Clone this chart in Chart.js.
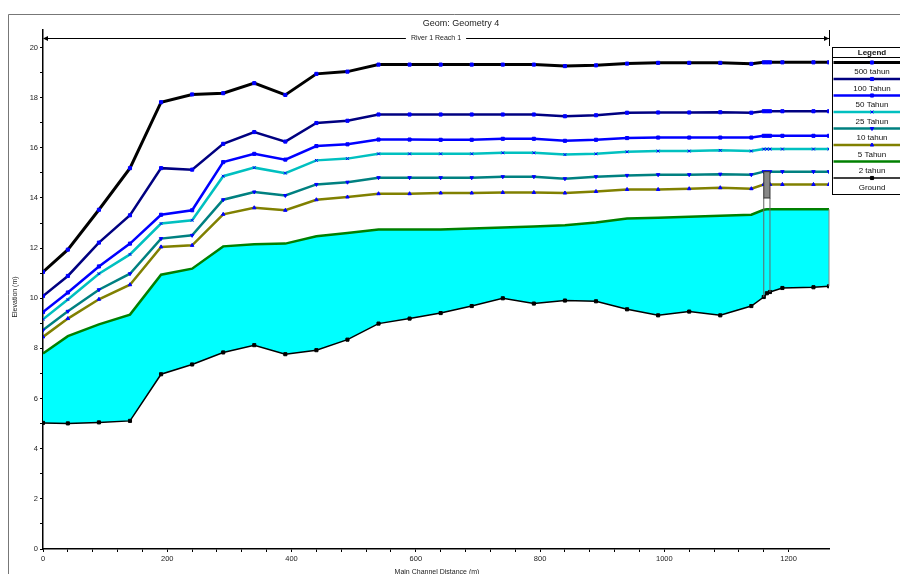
<!DOCTYPE html>
<html lang="id">
<head>
  <meta charset="UTF-8" />
  <title>Geom: Geometry 4</title>
  <script src="https://cdn.jsdelivr.net/npm/chart.js"></script>
  <style>
    body {
      margin: 0;
      background: #fff;
      overflow: hidden;
    }
    canvas {
      display: block;
    }
  </style>
</head>
<body>

<canvas id="profil" width="900" height="574"></canvas>

<script>
  // jarak sepanjang saluran utama (m)
  const stasiun = [0, 40, 90, 140, 190, 240, 290, 340, 390, 440, 490, 540, 590, 640, 690,
    740, 790, 840, 890, 940, 990, 1040, 1090, 1140, 1160, 1165, 1170, 1190, 1240, 1265];

  // muka air per kala ulang (m)
  const ws500 = [11.05, 11.94, 13.53, 15.19, 17.82, 18.13, 18.18, 18.58, 18.11, 18.95, 19.04, 19.32, 19.32, 19.32, 19.32,
    19.32, 19.32, 19.26, 19.29, 19.36, 19.39, 19.39, 19.39, 19.35, 19.41, 19.41, 19.41, 19.41, 19.41, 19.41];
  const ws100 = [10.09, 10.89, 12.22, 13.31, 15.19, 15.13, 16.16, 16.63, 16.25, 16.99, 17.08, 17.33, 17.33, 17.33, 17.33,
    17.33, 17.33, 17.26, 17.30, 17.40, 17.41, 17.41, 17.42, 17.40, 17.46, 17.46, 17.46, 17.46, 17.46, 17.46];
  const ws50 = [9.45, 10.23, 11.27, 12.18, 13.33, 13.51, 15.43, 15.76, 15.53, 16.07, 16.14, 16.33, 16.33, 16.32, 16.32,
    16.36, 16.36, 16.28, 16.32, 16.39, 16.41, 16.41, 16.41, 16.41, 16.48, 16.48, 16.48, 16.48, 16.48, 16.48];
  const ws25 = [9.16, 9.95, 10.98, 11.75, 12.98, 13.11, 14.87, 15.21, 14.99, 15.50, 15.57, 15.76, 15.76, 15.76, 15.76,
    15.80, 15.80, 15.73, 15.76, 15.84, 15.87, 15.87, 15.90, 15.87, 15.95, 15.95, 15.95, 15.95, 15.95, 15.95];
  const ws10 = [8.73, 9.48, 10.34, 10.98, 12.38, 12.51, 13.93, 14.24, 14.10, 14.54, 14.63, 14.81, 14.81, 14.81, 14.81,
    14.85, 14.85, 14.77, 14.85, 14.90, 14.93, 14.93, 14.95, 14.93, 15.05, 15.05, 15.05, 15.05, 15.05, 15.05];
  const ws5 = [8.46, 9.19, 9.96, 10.54, 12.05, 12.11, 13.35, 13.61, 13.51, 13.93, 14.04, 14.17, 14.17, 14.20, 14.20,
    14.22, 14.22, 14.20, 14.26, 14.34, 14.34, 14.37, 14.41, 14.37, 14.54, 14.54, 14.54, 14.54, 14.54, 14.54];
  const ws2 = [7.80, 8.49, 8.96, 9.35, 10.94, 11.18, 12.07, 12.15, 12.18, 12.47, 12.60, 12.74, 12.74, 12.74, 12.78,
    12.82, 12.86, 12.91, 13.02, 13.18, 13.21, 13.25, 13.29, 13.33, 13.53, 13.55, 13.55, 13.55, 13.55, 13.55];
  const dasar = [5.03, 5.01, 5.05, 5.11, 6.97, 7.36, 7.84, 8.13, 7.77, 7.93, 8.35, 8.99, 9.19, 9.41, 9.69,
    10.00, 9.79, 9.91, 9.88, 9.56, 9.32, 9.47, 9.32, 9.69, 10.05, 10.20, 10.25, 10.41, 10.44, 10.48];

  const namaSeri = ['500 tahun', '100 Tahun', '50 Tahun', '25 Tahun', '10 tahun', '5 Tahun', '2 tahun', 'Ground'];

  // jembatan: stasiun hulu/hilir, elevasi lantai bawah/atas
  const jembatanSta = [1160, 1170];
  const jembatanElev = [14.0, 15.05];

  const judul = 'Geom: Geometry 4';
  const namaReach = 'River 1 Reach 1';
  const FONT = '"Liberation Sans", Arial, sans-serif';

  function titik(arr) {
    return stasiun.map((s, i) => ({ x: s, y: arr[i] }));
  }

  const gaya = [
    { data: ws500, warna: '#000000', lebar: 3, marker: 'rect', r: 2.2, rot: 0 },
    { data: ws100, warna: '#000080', lebar: 2.5, marker: 'rect', r: 2.2, rot: 0 },
    { data: ws50, warna: '#0000ff', lebar: 2.5, marker: 'rect', r: 2.2, rot: 0 },
    { data: ws25, warna: '#00c0c0', lebar: 2.5, marker: 'crossRot', r: 2, rot: 0 },
    { data: ws10, warna: '#008080', lebar: 2.5, marker: 'triangle', r: 2, rot: 180 },
    { data: ws5, warna: '#808000', lebar: 2.5, marker: 'triangle', r: 2, rot: 0 },
    { data: ws2, warna: '#008000', lebar: 2.5, marker: false, r: 0, rot: 0 },
    { data: dasar, warna: '#000000', lebar: 1.5, marker: 'rect', r: 2.2, rot: 0 }
  ];

  const datasets = gaya.map((g, i) => {
    const ground = i === 7;
    return {
      label: namaSeri[i],
      data: titik(g.data),
      order: ground ? -1 : i,
      borderColor: g.warna,
      borderWidth: g.lebar,
      backgroundColor: i === 6 ? '#00ffff' : g.warna,
      fill: i === 6 ? { target: 7 } : false,
      pointStyle: g.marker,
      pointRadius: g.r,
      pointRotation: g.rot,
      pointBackgroundColor: ground ? '#000' : '#0000ff',
      pointBorderColor: ground ? '#000' : '#0000ff',
      pointBorderWidth: 1,
      tension: 0
    };
  });

  // bingkai, judul, panah reach, judul sumbu
  const dekorasi = {
    id: 'dekorasi',
    beforeDraw(chart) {
      const c = chart.ctx;
      const xs = chart.scales.x;
      c.save();
      c.fillStyle = '#fff';
      c.fillRect(0, 0, chart.width, chart.height);

      c.strokeStyle = '#777';
      c.lineWidth = 1;
      c.beginPath();
      c.moveTo(8.5, chart.height);
      c.lineTo(8.5, 14.5);
      c.lineTo(chart.width, 14.5);
      c.stroke();

      c.fillStyle = '#222';
      c.textAlign = 'center';
      c.textBaseline = 'middle';
      c.font = '9px ' + FONT;
      c.fillText(judul, 461, 24);

      // garis reach
      const x0 = xs.getPixelForValue(0);
      const x1 = xs.getPixelForValue(stasiun[stasiun.length - 1]);
      const y = 38.5;
      c.font = '7px ' + FONT;
      const tw = c.measureText(namaReach).width;
      const tx = 436;
      c.fillText(namaReach, tx, y);
      c.strokeStyle = '#000';
      c.beginPath();
      c.moveTo(x0 + 2, y);
      c.lineTo(tx - tw / 2 - 5, y);
      c.moveTo(tx + tw / 2 + 5, y);
      c.lineTo(x1, y);
      c.moveTo(x1 + 0.5, 30);
      c.lineTo(x1 + 0.5, 46);
      c.stroke();
      c.fillStyle = '#000';
      c.beginPath();
      c.moveTo(x0, y);
      c.lineTo(x0 + 5, y - 2.5);
      c.lineTo(x0 + 5, y + 2.5);
      c.closePath();
      c.fill();
      c.beginPath();
      c.moveTo(x1, y);
      c.lineTo(x1 - 5, y - 2.5);
      c.lineTo(x1 - 5, y + 2.5);
      c.closePath();
      c.fill();

      // judul sumbu
      c.fillStyle = '#222';
      c.font = '7px ' + FONT;
      c.textBaseline = 'top';
      c.fillText('Main Channel Distance (m)', 437, 569);
      c.translate(15, 297);
      c.rotate(-Math.PI / 2);
      c.textBaseline = 'middle';
      c.fillText('Elevation (m)', 0, 0);
      c.restore();
    }
  };

  // jembatan dan batas hilir
  const jembatan = {
    id: 'jembatan',
    afterDatasetsDraw(chart) {
      const c = chart.ctx;
      const xs = chart.scales.x, ys = chart.scales.y;
      const xa = xs.getPixelForValue(jembatanSta[0]);
      const xb = xs.getPixelForValue(jembatanSta[1]);
      const yBawah = ys.getPixelForValue(jembatanElev[0]);
      const yAtas = ys.getPixelForValue(jembatanElev[1]);
      const iA = stasiun.indexOf(jembatanSta[0]);
      const iB = stasiun.indexOf(jembatanSta[1]);
      c.save();
      c.strokeStyle = '#666';
      c.lineWidth = 1;
      c.beginPath();
      c.moveTo(xa, yBawah);
      c.lineTo(xa, ys.getPixelForValue(dasar[iA]));
      c.moveTo(xb, yBawah);
      c.lineTo(xb, ys.getPixelForValue(dasar[iB]));
      c.stroke();
      c.fillStyle = '#888';
      c.fillRect(xa, yAtas, xb - xa, yBawah - yAtas);
      c.strokeStyle = '#333';
      c.strokeRect(xa, yAtas, xb - xa, yBawah - yAtas);

      const n = stasiun.length - 1;
      const xe = xs.getPixelForValue(stasiun[n]);
      c.strokeStyle = '#888';
      c.beginPath();
      c.moveTo(xe, ys.getPixelForValue(ws2[n]));
      c.lineTo(xe, ys.getPixelForValue(dasar[n]));
      c.stroke();
      c.restore();
    }
  };

  // kotak legenda di kanan atas
  const legenda = {
    id: 'legenda',
    afterDraw(chart) {
      const c = chart.ctx;
      const kiri = 832.5, kanan = 912, atas = 47.5, bawah = 194.5;
      const tengah = 872;
      c.save();
      c.fillStyle = '#fff';
      c.fillRect(kiri, atas, kanan - kiri, bawah - atas);
      c.strokeStyle = '#000';
      c.lineWidth = 1;
      c.strokeRect(kiri, atas, kanan - kiri, bawah - atas);
      c.beginPath();
      c.moveTo(kiri, 57.5);
      c.lineTo(kanan, 57.5);
      c.stroke();
      c.fillStyle = '#111';
      c.textAlign = 'center';
      c.textBaseline = 'middle';
      c.font = 'bold 8px ' + FONT;
      c.fillText('Legend', tengah, 52.5);
      c.font = '8px ' + FONT;
      gaya.forEach((g, i) => {
        const yl = 62.5 + i * 16.5;
        c.strokeStyle = g.warna;
        c.lineWidth = g.lebar;
        c.beginPath();
        c.moveTo(kiri + 1, yl);
        c.lineTo(kanan, yl);
        c.stroke();
        if (g.marker) {
          const ground = i === 7;
          c.fillStyle = ground ? '#000' : '#0000ff';
          c.strokeStyle = ground ? '#000' : '#0000ff';
          c.lineWidth = 1;
          Chart.helpers.drawPoint(c, { pointStyle: g.marker, radius: g.r, rotation: g.rot, borderWidth: 1 }, tengah, yl);
        }
        c.fillStyle = '#111';
        c.fillText(namaSeri[i], tengah, yl + 9.5);
      });
      c.restore();
    }
  };

  function hanyaBulat(scale) {
    scale.ticks = scale.ticks.filter(t => Math.abs(t.value - Math.round(t.value)) < 1e-6);
  }

  new Chart(document.getElementById('profil').getContext('2d'), {
    type: 'line',
    data: { datasets: datasets },
    options: {
      responsive: false,
      animation: false,
      layout: { padding: { left: 0, top: 30, right: 71, bottom: 0 } },
      plugins: {
        legend: { display: false },
        title: { display: false },
        tooltip: { enabled: false }
      },
      scales: {
        x: {
          type: 'linear',
          min: 0,
          max: 1265,
          afterBuildTicks: s => {
            s.ticks = s.ticks.filter(t => t.value % 40 === 0);
          },
          afterFit: s => { s.height = 25; },
          border: { display: true, color: '#000', width: 1.5 },
          grid: { drawOnChartArea: false, color: '#000', tickLength: 3 },
          ticks: {
            stepSize: 40,
            autoSkip: false,
            maxRotation: 0,
            padding: 2,
            color: '#222',
            font: { family: FONT, size: 7.5 },
            callback: v => (v % 200 === 0 ? v : '')
          }
        },
        y: {
          min: 0,
          max: 20.7,
          afterBuildTicks: hanyaBulat,
          afterFit: s => { s.width = 43; },
          border: { display: true, color: '#000', width: 1.5 },
          grid: { drawOnChartArea: false, color: '#000', tickLength: 3 },
          ticks: {
            stepSize: 1,
            autoSkip: false,
            padding: 2,
            color: '#222',
            font: { family: FONT, size: 7.5 },
            callback: v => (v % 2 === 0 ? v : '')
          }
        }
      }
    },
    plugins: [dekorasi, jembatan, legenda]
  });
</script>
</body>
</html>
